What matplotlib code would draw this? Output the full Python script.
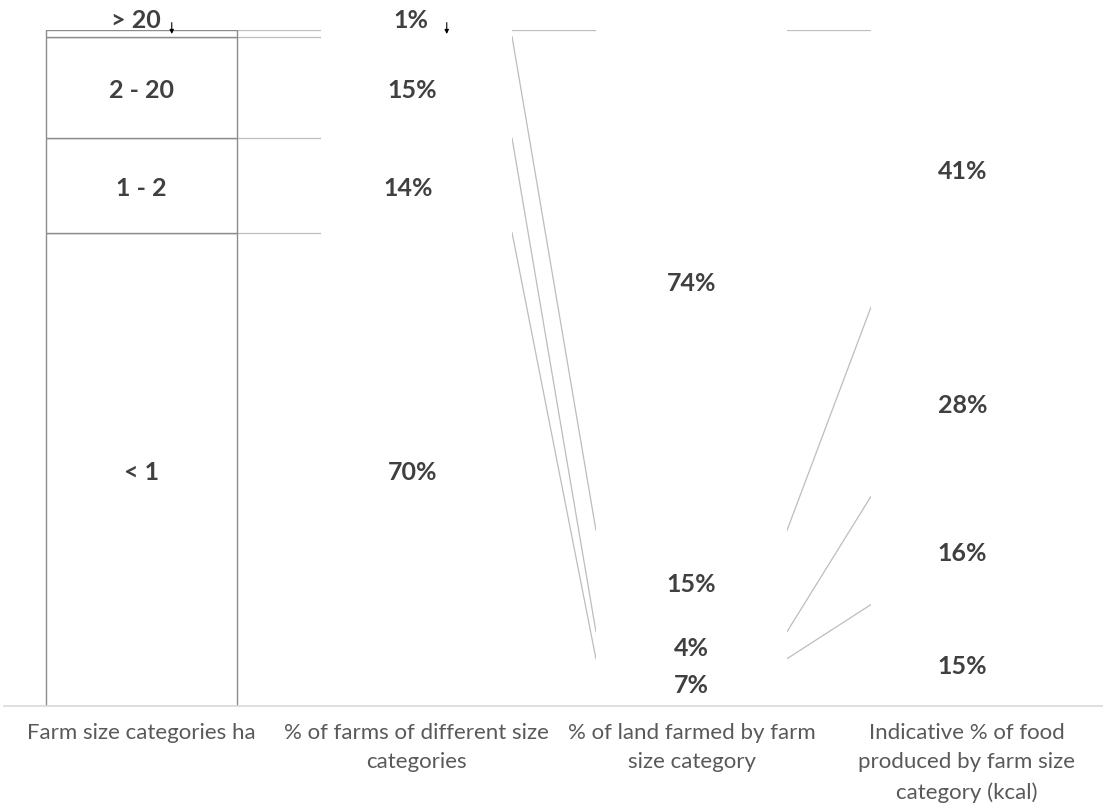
import matplotlib
matplotlib.use('Agg')
import matplotlib.pyplot as plt
import numpy as np

plt.rcParams['font.family'] = ['Lato', 'DejaVu Sans']

categories = ['Farm size categories ha',
              '% of farms of different size\ncategories',
              '% of land farmed by farm\nsize category',
              'Indicative % of food\nproduced by farm size\ncategory (kcal)']
size_classes = ['< 1', '1 - 2', '2 - 20', '> 20']   # bottom to top
farms = [70, 14, 15, 1]
land = [7, 4, 15, 74]
food = [15, 16, 28, 41]

# first column repeats the farm shares, labelled with the size classes
columns = [farms, farms, land, food]

text_col = '#404040'
line_col = '#bdbdbd'
w = 0.695

fig = plt.figure(figsize=(11.03, 8.05), dpi=100)
ax = fig.add_axes([4 / 1103, 1 - 706 / 805, 1100 / 1103, 676 / 805])
x = np.arange(len(categories))

cum = np.cumsum(np.array(columns), axis=1)
bottoms = cum - np.array(columns)

for j in range(len(size_classes)):
    vals = [c[j] for c in columns]
    edges = ['#8c8c8c', 'none', 'none', 'none']
    ax.bar(x, vals, bottom=bottoms[:, j], width=w, color='white',
           edgecolor=edges, linewidth=1.0, zorder=2)

# series lines between neighbouring columns
for i in range(len(categories) - 1):
    for j in range(len(size_classes)):
        ax.plot([x[i] + w / 2, x[i + 1] - w / 2], [cum[i, j], cum[i + 1, j]],
                color=line_col, lw=0.9, zorder=1)

# data labels
lab_kw = dict(ha='center', va='center', fontsize=18, fontweight='bold', color=text_col, zorder=3)
for i, col in enumerate(columns):
    for j, v in enumerate(col):
        yc = bottoms[i, j] + v / 2 - 0.5
        txt = size_classes[j] if i == 0 else f'{v}%'
        if j == 3 and i < 2:
            # tiny top segment: label sits above the column with an arrow
            ax.text(x[i] - 0.02, 101.4, txt, **lab_kw, clip_on=False)
            ax.annotate('', xy=(x[i] + 0.11, 99.0), xytext=(x[i] + 0.11, 101.5),
                        arrowprops=dict(arrowstyle='-|>', color='black', lw=0.8,
                                        mutation_scale=6), annotation_clip=False)
            continue
        dx = -0.015 if i in (1, 3) else 0
        if i == 1 and j == 1:
            dx = -0.03
        dy = -1.2 if (i == 3 and j == 0) else 0
        ax.text(x[i] + dx, yc + dy, txt, **lab_kw)

ax.set_xlim(-0.5, len(categories) - 0.5)
ax.set_ylim(0, 100)
ax.set_yticks([])
ax.set_xticks(x)
ax.set_xticklabels(categories, fontsize=16, color='#595959', linespacing=1.6, va='top')
ax.tick_params(axis='x', length=0, pad=12)
for s in ['left', 'right', 'top']:
    ax.spines[s].set_visible(False)
ax.spines['bottom'].set_color('#d9d9d9')
ax.spines['bottom'].set_linewidth(1.2)

fig.savefig('out.png', dpi=100)
